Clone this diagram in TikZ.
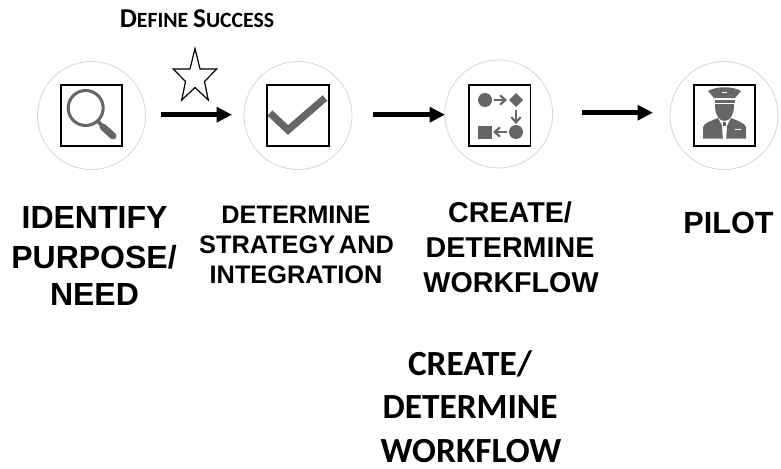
\documentclass[tikz,border=0pt]{standalone}
\usepackage{fontspec}
\setmainfont{Liberation Sans}
\newfontfamily\calibri{Carlito}
\usetikzlibrary{shapes.geometric,arrows.meta}
\definecolor{icongray}{HTML}{666666}
\definecolor{ringgray}{HTML}{D4D4D4}
\tikzset{
  ring/.style={circle,draw=ringgray,line width=0.6pt,minimum size=81pt,inner sep=0pt},
  iconbox/.style={rectangle,draw=black,line width=1.4pt,minimum size=46pt,inner sep=0pt},
  flowarrow/.style={line width=3.6pt,-{Triangle[length=11.5pt,width=11pt]}},
  steplabel/.style={anchor=base,inner sep=0pt,font=\bfseries\fontsize{#1}{#1}\selectfont},
  sublabel/.style={anchor=base,inner sep=0pt,font=\calibri\bfseries\fontsize{26.5}{26.5}\selectfont},
  smallarrow/.style={icongray,line width=1.6pt,-{Straight Barb[length=4pt,width=7pt]}}
}
\begin{document}
\begin{tikzpicture}[x=0.75pt,y=-0.75pt]
\useasboundingbox (0,0) rectangle (781,468);
% rings
\node[ring] (c1) at (91.5,115.5) {};
\node[ring] (c2) at (298,115.5) {};
\node[ring] (c3) at (498.7,114) {};
\node[ring] (c4) at (724,115.5) {};
% icon boxes
\node[iconbox] (b1) at (91.3,115.5) {};
\node[iconbox] (b2) at (298,115.5) {};
\node[iconbox] (b3) at (499.8,115.5) {};
\node[iconbox] (b4) at (724.3,115.5) {};
% magnifier
\draw[icongray,line width=2.3pt] (85.7,108) circle (17.5);
\draw[icongray,line width=5.2pt,line cap=round] (103,127) -- (113,136);
\draw[icongray,line width=2.8pt] (97,120) -- (104,128);
% check mark
\draw[icongray,line width=5.4pt,line join=miter] (270,113) -- (288,130) -- (325,98);
% flow icon
\fill[icongray] (485,100) circle (7);
\fill[icongray] (516,93) -- (523,100) -- (516,107) -- (509,100) -- cycle;
\fill[icongray] (516,132) circle (7);
\fill[icongray] (478,126) rectangle (492,139);
\draw[smallarrow] (494,100) -- (507,100);
\draw[smallarrow] (516,110) -- (516,124);
\draw[smallarrow] (507,132) -- (493,132);
% pilot icon
\fill[icongray] (708,91) .. controls (716,86) and (733,86) .. (741,91) -- (735,98) -- (714,98) -- cycle;
\fill[icongray] (714.5,100) rectangle (734.5,102.5);
\fill[icongray] (715,104) -- (734,104) .. controls (734.5,114) and (730,121) .. (724.5,121) .. controls (719,121) and (714.5,114) .. (715,104) -- cycle;
\fill[icongray] (703,138.5) -- (703,127) .. controls (704,123) and (712,120.5) .. (718,118) -- (722,126) -- (722.8,138.5) -- cycle;
\fill[icongray] (746,138.5) -- (746,127) .. controls (745,123) and (737,120.5) .. (731,118) -- (727,126) -- (726.2,138.5) -- cycle;
\fill[icongray] (723,122) rectangle (726,126);
\fill[white] (735,128.5) rectangle (741,130);
\fill[white] (722,91.5) rectangle (727,93);
% star
\draw[black,line width=0.9pt,line join=miter,fill=white]
  (195,48.5) -- (200,69) -- (216.7,69) -- (204.5,81.5) -- (208.3,100) -- (195,87.5)
  -- (181.7,100) -- (185.5,81.5) -- (173.3,69) -- (190,69) -- cycle;
% arrows
\coordinate (a1s) at (161,114.7);
\coordinate (a1e) at (232,114.7);
\coordinate (a2s) at (373,114.7);
\coordinate (a2e) at (445,114.7);
\coordinate (a3s) at (581.7,112.7);
\coordinate (a3e) at (653,112.7);
\draw[flowarrow] (a1s) -- (a1e);
\draw[flowarrow] (a2s) -- (a2e);
\draw[flowarrow] (a3s) -- (a3e);
% labels
\node[anchor=base,inner sep=0pt,font=\calibri\bfseries] (t0) at (197,27) {\fontsize{20.4}{20.4}\selectfont D\fontsize{16.3}{16.3}\selectfont EFINE \fontsize{20.4}{20.4}\selectfont S\fontsize{16.3}{16.3}\selectfont UCCESS};
\node[steplabel=24] (t1a) at (94.5,228) {IDENTIFY};
\node[steplabel=24] (t1b) at (94,268) {PURPOSE/};
\node[steplabel=24] (t1c) at (94.5,305) {NEED};
\node[steplabel=19] (t2a) at (296,223) {DETERMINE};
\node[steplabel=19] (t2b) at (296.5,253) {STRATEGY\hspace{0.15em}AND};
\node[steplabel=19] (t2c) at (296,283) {INTEGRATION};
\node[steplabel=21.5] (t3a) at (510,222) {CREATE/};
\node[steplabel=21.5] (t3b) at (510,257) {DETERMINE};
\node[steplabel=21.5] (t3c) at (511,292) {WORKFLOW};
\node[steplabel=23] (t4) at (728.5,233) {PILOT};
\node[sublabel] (t5a) at (470,375) {CREATE/};
\node[sublabel] (t5b) at (470,418) {DETERMINE};
\node[sublabel] (t5c) at (471,462) {WORKFLOW};
\end{tikzpicture}
\end{document}
